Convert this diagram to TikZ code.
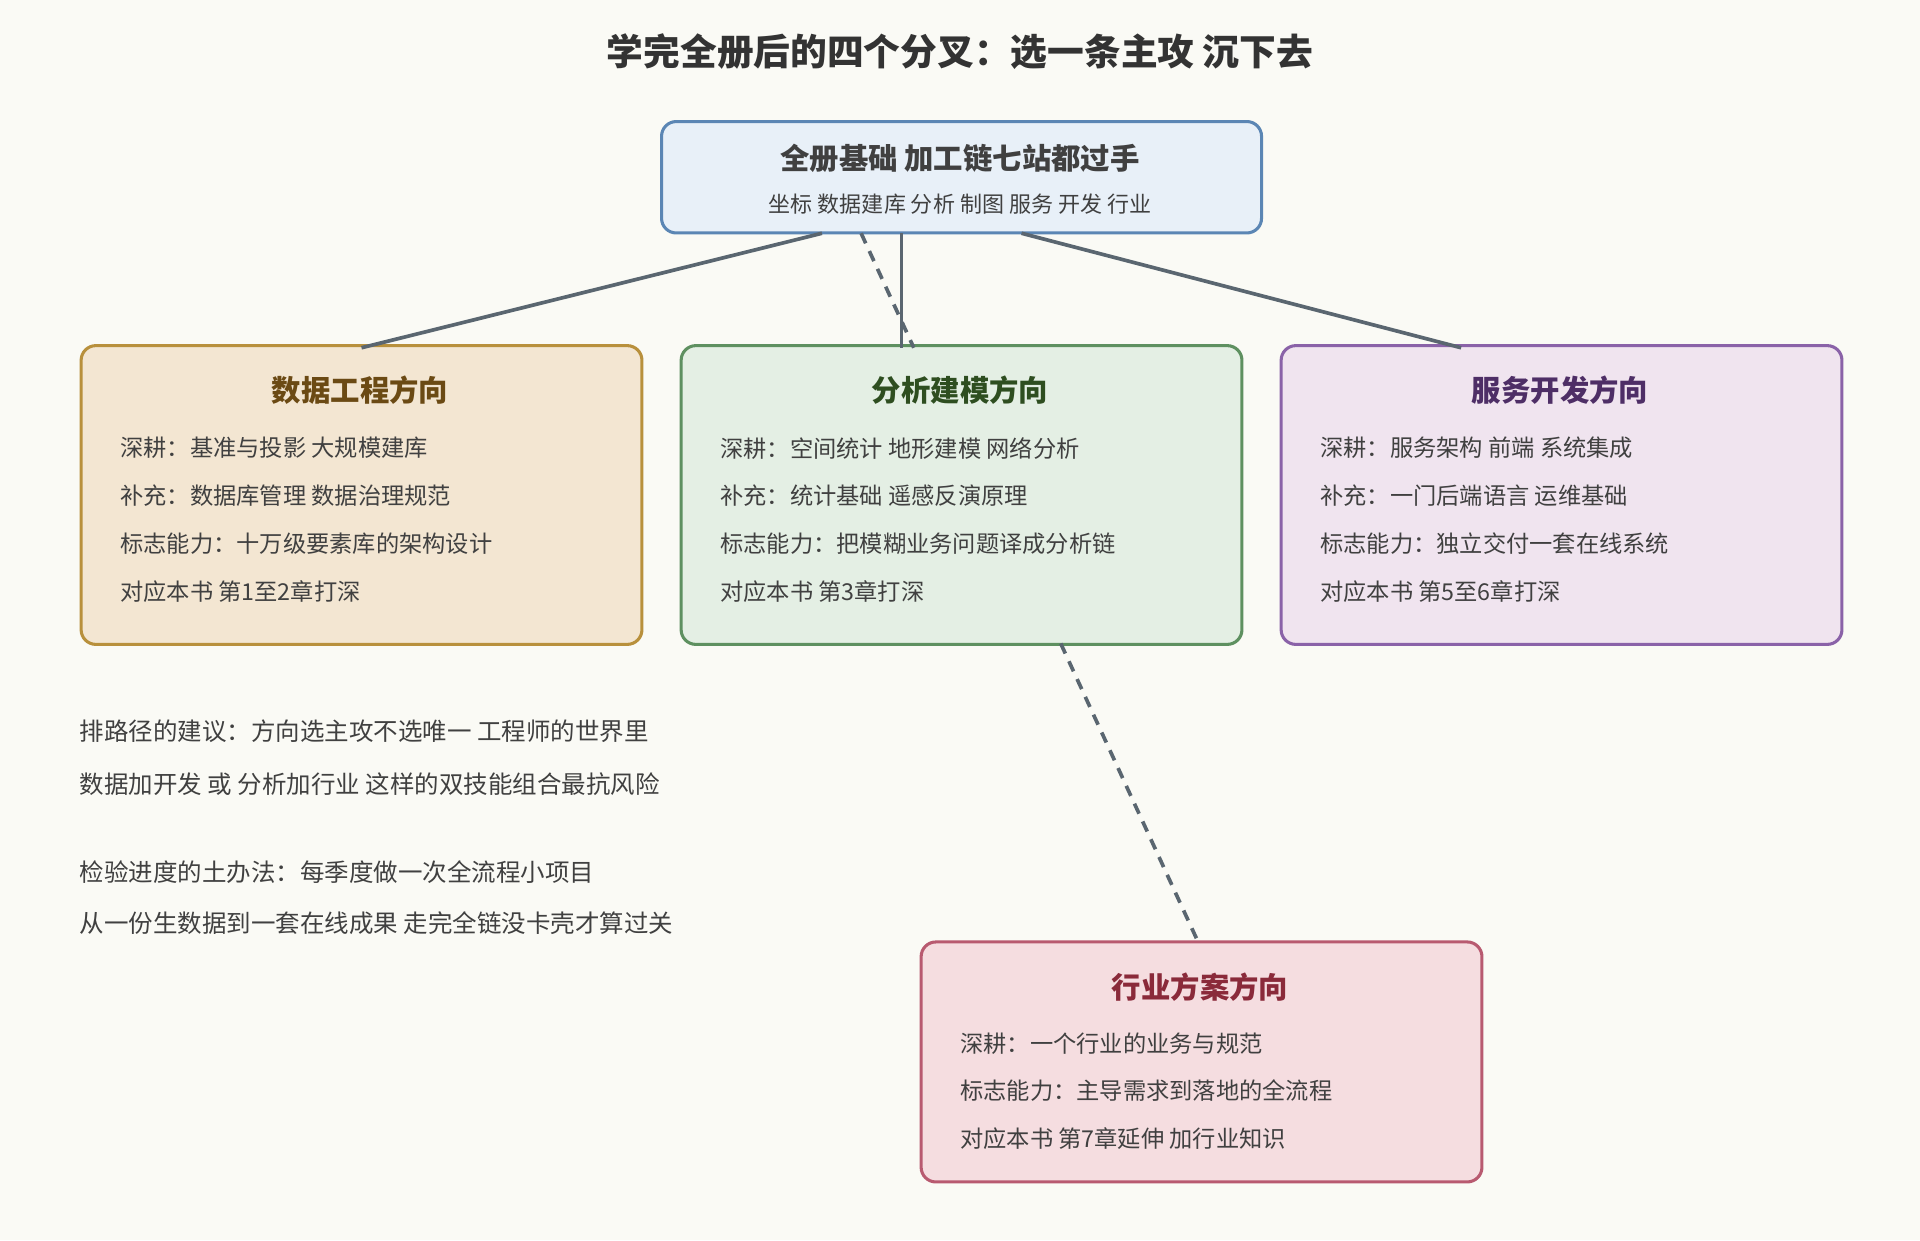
\documentclass[tikz,border=0pt]{standalone}
\usepackage{fontspec}
\setmainfont{Noto Sans CJK SC}
\begin{document}
\begin{tikzpicture}[x=1pt,y=-1pt,
  box/.style={draw, line width=2.5pt, rounded corners=12pt, minimum width=458pt, anchor=north west, inner sep=0pt},
  ttl/.style={font=\fontsize{24}{28}\selectfont\bfseries},
  txt/.style={anchor=west, font=\fontsize{19}{22}\selectfont, text=black!75, inner sep=0pt},
  con/.style={draw=linec, line width=3pt},
  dsh/.style={con, dash pattern=on 9pt off 7pt}]
\definecolor{bg}{HTML}{FAFAF5}
\definecolor{linec}{HTML}{5A6670}
\definecolor{tf}{HTML}{E8F0F8}\definecolor{tb}{HTML}{5B86B4}
\definecolor{lf}{HTML}{F3E6D2}\definecolor{lb}{HTML}{B8903C}\definecolor{lt}{HTML}{6B4A14}
\definecolor{mf}{HTML}{E4EFE4}\definecolor{mb}{HTML}{5E9060}\definecolor{mt}{HTML}{2E4E20}
\definecolor{rf}{HTML}{F0E4EF}\definecolor{rb}{HTML}{8A62A8}\definecolor{rt}{HTML}{4E2E66}
\definecolor{bf}{HTML}{F5DDE0}\definecolor{bb}{HTML}{B85A70}\definecolor{bt}{HTML}{8A2A3A}
\fill[bg] (0,0) rectangle (1568,1013);
\useasboundingbox (0,0) rectangle (1568,1013);
\node[font=\fontsize{30}{34}\selectfont\bfseries, text=black!80] (title) at (784,42) {学完全册后的四个分叉：选一条主攻 沉下去};
% top
\node[box, draw=tb, fill=tf, minimum width=490pt, minimum height=91pt] (top) at (539,98) {};
\node[ttl, text=black!75] (topt) at (784,129) {全册基础 加工链七站都过手};
\node[font=\fontsize{18}{22}\selectfont, text=black!75] (tops) at (784,167) {坐标 数据建库 分析 制图 服务 开发 行业};
% boxes
\node[box, draw=lb, fill=lf, minimum height=244pt] (L) at (65,281) {};
\node[box, draw=mb, fill=mf, minimum height=244pt] (M) at (555,281) {};
\node[box, draw=rb, fill=rf, minimum height=244pt] (R) at (1045,281) {};
\node[box, draw=bb, fill=bf, minimum height=196pt] (B) at (751,768) {};
\node[ttl, text=lt] (Lt) at (294,319) {数据工程方向};
\node[ttl, text=mt] (Mt) at (784,319) {分析建模方向};
\node[ttl, text=rt] (Rt) at (1274,319) {服务开发方向};
\node[ttl, text=bt] (Bt) at (980,806) {行业方案方向};
\node[txt] (L1) at (98,366) {深耕：基准与投影 大规模建库};
\node[txt] (L2) at (98,405) {补充：数据库管理 数据治理规范};
\node[txt] (L3) at (98,444) {标志能力：十万级要素库的架构设计};
\node[txt] (L4) at (98,483) {对应本书 第1至2章打深};
\node[txt] (M1) at (588,366) {深耕：空间统计 地形建模 网络分析};
\node[txt] (M2) at (588,405) {补充：统计基础 遥感反演原理};
\node[txt] (M3) at (588,444) {标志能力：把模糊业务问题译成分析链};
\node[txt] (M4) at (588,483) {对应本书 第3章打深};
\node[txt] (R1) at (1078,366) {深耕：服务架构 前端 系统集成};
\node[txt] (R2) at (1078,405) {补充：一门后端语言 运维基础};
\node[txt] (R3) at (1078,444) {标志能力：独立交付一套在线系统};
\node[txt] (R4) at (1078,483) {对应本书 第5至6章打深};
\node[txt] (B1) at (784,852) {深耕：一个行业的业务与规范};
\node[txt] (B2) at (784,891) {标志能力：主导需求到落地的全流程};
\node[txt] (B3) at (784,930) {对应本书 第7章延伸 加行业知识};
\node[txt, font=\fontsize{20}{24}\selectfont] (s1) at (65,597) {排路径的建议：方向选主攻不选唯一 工程师的世界里};
\node[txt, font=\fontsize{20}{24}\selectfont] (s2) at (65,640) {数据加开发 或 分析加行业 这样的双技能组合最抗风险};
\node[txt, font=\fontsize{20}{24}\selectfont] (s3) at (65,712) {检验进度的土办法：每季度做一次全流程小项目};
\node[txt, font=\fontsize{20}{24}\selectfont] (s4) at (65,754) {从一份生数据到一套在线成果 走完全链没卡壳才算过关};
% connectors
\draw[con] ([xshift=-114pt,yshift=1pt]top.south) -- ([yshift=-3pt]L.north);
\draw[con] ([xshift=-49pt,yshift=1pt]top.south) -- ([xshift=-49pt,yshift=-3pt]M.north);
\draw[dsh] ([xshift=-82pt,yshift=1pt]top.south) -- ([xshift=-39pt,yshift=-3pt]M.north);
\draw[con] ([xshift=49pt,yshift=1pt]top.south) -- ([xshift=-82pt,yshift=-3pt]R.north);
\draw[dsh] ([xshift=81pt,yshift=2pt]M.south) -- ([xshift=-2pt,yshift=-3pt]B.north);
\end{tikzpicture}
\end{document}
